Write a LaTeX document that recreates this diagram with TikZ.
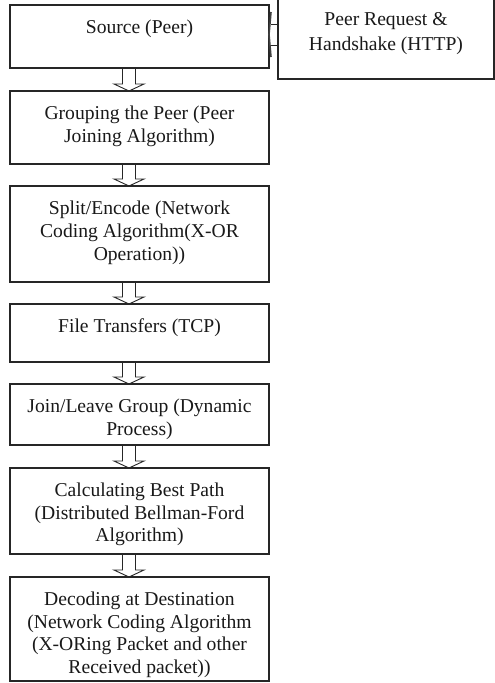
\documentclass[tikz,border=0pt]{standalone}
\usepackage{fontspec}
\setmainfont{Liberation Serif}
\usetikzlibrary{calc}
\newcommand\flowarr[2]{\draw[arr] ($(#1.south)+(-17,0)$) -- ($(#2.north)+(-17,7)$) -- ($(#2.north)+(-25.5,7)$) -- ($(#2.north)+(-10.5,0)$) -- ($(#2.north)+(4.5,7)$) -- ($(#2.north)+(-4,7)$) -- ($(#1.south)+(-4,0)$);}
\begin{document}
\begin{tikzpicture}[x=1pt,y=1pt,
  box/.style={draw=black!85, line width=1.2pt, rectangle, inner sep=0pt, outer sep=0pt},
  txt/.style={anchor=north, inner sep=0pt, align=center, font=\fontsize{19.6}{22.8}\selectfont, text=black!90},
  arr/.style={draw=black!85, line width=0.9pt, line join=miter}]
\useasboundingbox (0,0) rectangle (495,-683);
\fill[white] (0,0) rectangle (495,-683);
% boxes
\node[box, minimum width=259, minimum height=63] (src) at (139.5,-36.5) {};
\node[box, minimum width=216, minimum height=82] (peer) at (386,-38) {};
\node[box, minimum width=259, minimum height=73] (grp) at (139.5,-127.5) {};
\node[box, minimum width=259, minimum height=96] (split) at (139.5,-234) {};
\node[box, minimum width=259, minimum height=58] (file) at (139.5,-333) {};
\node[box, minimum width=259, minimum height=61] (join) at (139.5,-414.5) {};
\node[box, minimum width=259, minimum height=86] (calc) at (139.5,-511) {};
\node[box, minimum width=259, minimum height=104] (dec) at (139.5,-629) {};
% texts
\node[txt] (src-t) at ($(src.north)+(0,-12.6)$) {\strut Source (Peer)};
\node[txt] (peer-t) at ($(peer.north)+(0,-12.8)$) {\strut Peer Request \&\\[2.2pt] Handshake (HTTP)};
\node[txt] (grp-t) at ($(grp.north)+(0,-12.6)$) {\strut Grouping the Peer (Peer\\ Joining Algorithm)};
\node[txt] (split-t) at ($(split.north)+(0,-12.4)$) {\strut Split/Encode (Network\\ Coding Algorithm(X-OR\\ Operation))};
\node[txt] (file-t) at ($(file.north)+(0,-12.6)$) {\strut File Transfers (TCP)};
\node[txt] (join-t) at ($(join.north)+(0,-12.6)$) {\strut Join/Leave Group (Dynamic\\ Process)};
\node[txt] (calc-t) at ($(calc.north)+(0,-12.2)$) {\strut Calculating Best Path\\ (Distributed Bellman-Ford\\ Algorithm)};
\node[txt] (dec-t) at ($(dec.north)+(0,-12.2)$) {\strut Decoding at Destination\\ (Network Coding Algorithm\\ (X-ORing Packet and other\\ Received packet))};
% flow arrows
\flowarr{src}{grp}
\flowarr{grp}{split}
\flowarr{split}{file}
\flowarr{file}{join}
\flowarr{join}{calc}
\flowarr{calc}{dec}
% side arrow
\coordinate (hu) at (0,-24);
\coordinate (hl) at (0,-45);
\coordinate (ht) at (0,-12);
\coordinate (hb) at (0,-57);
\coordinate (hm) at (0,-34.5);
\draw[arr] (peer.west |- hu) -- ($(src.east |- hu)+(2,0)$);
\draw[arr] (peer.west |- hl) -- ($(src.east |- hl)+(2,0)$);
\draw[arr, line width=1.6pt, draw=black!75] ($(src.east |- ht)+(2,0)$) -- (src.east |- hm) -- ($(src.east |- hb)+(2,0)$);
\end{tikzpicture}
\end{document}
